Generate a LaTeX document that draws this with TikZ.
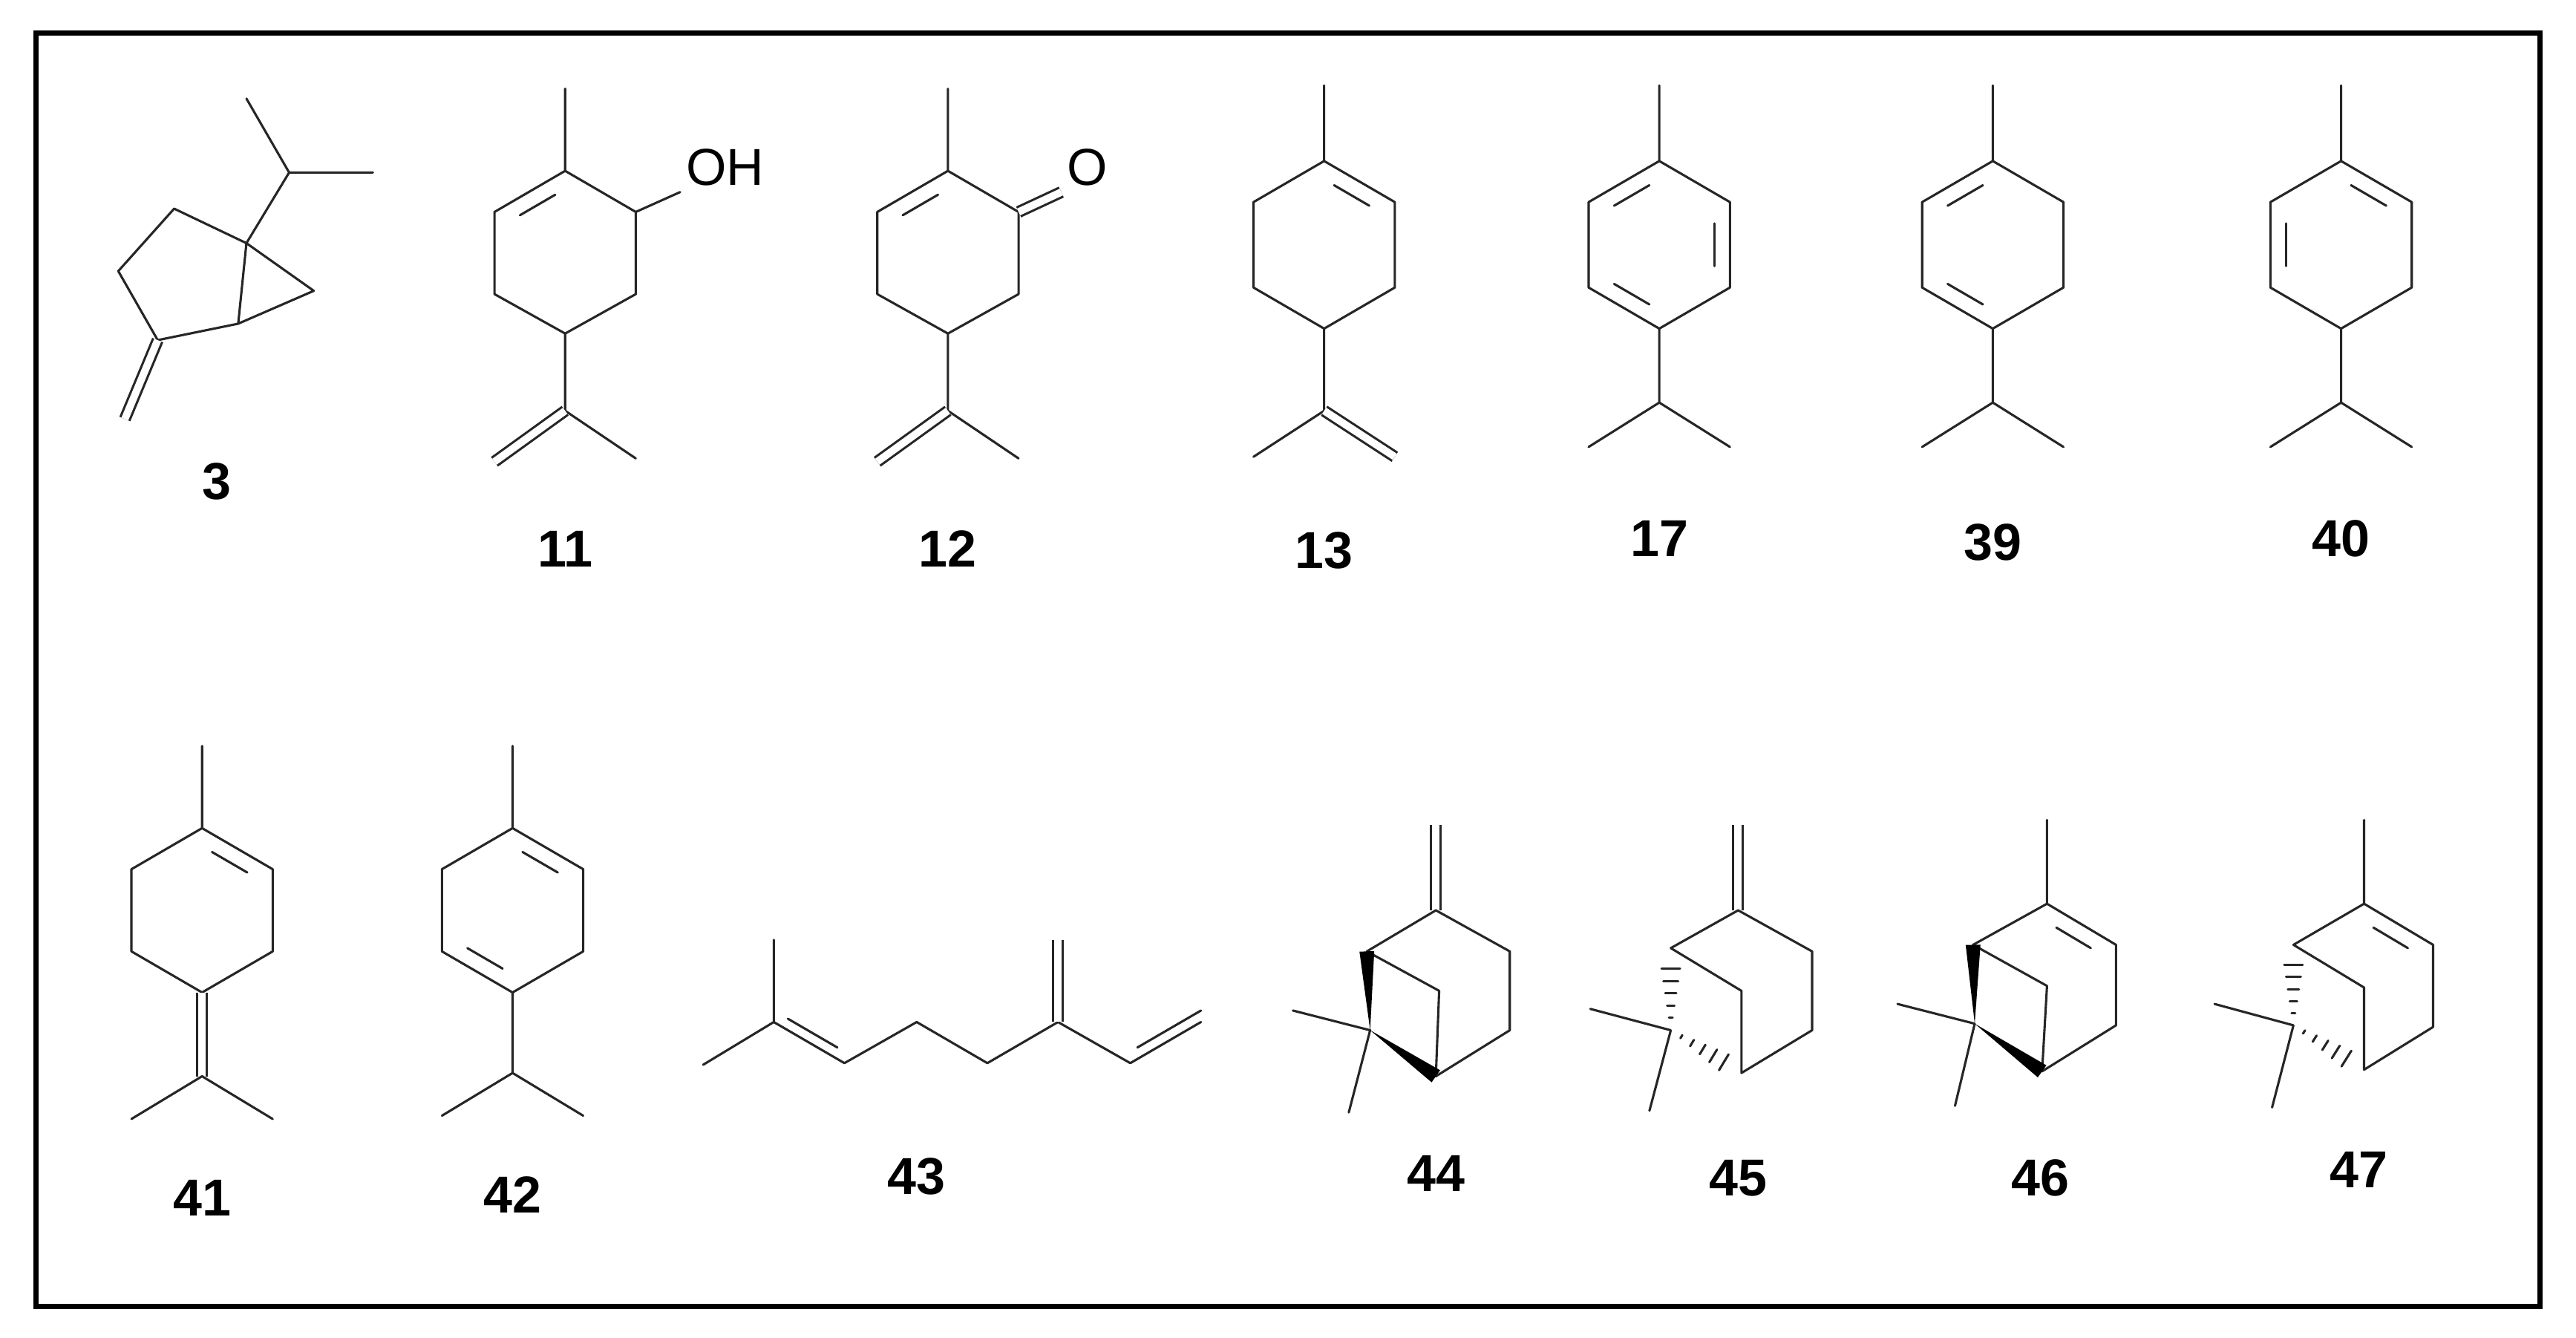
\documentclass[tikz,border=0pt]{standalone}
\usepackage{fontspec}
\setmainfont{Liberation Sans}
\usetikzlibrary{calc}
\tikzstyle{bond} = [line width=0.14mm, line cap=round, line join=round, black!85]
\tikzstyle{dbl} = [bond, double=white, double distance=0.45mm, line cap=butt]
\tikzstyle{lbl} = [font=\bfseries\fontsize{9}{10}\selectfont]
\tikzstyle{atom} = [font=\fontsize{9}{10}\selectfont, inner sep=0.3mm]
% inner line of a ring double bond: from, to, ring centre
\newcommand{\ringdbl}[3]{
	\draw [bond] ($($(#1)!.18!(#2)$)!.22!(#3)$) -- ($($(#2)!.18!(#1)$)!.22!(#3)$);}
% wedge and hash bonds: narrow end, wide end
\newcommand{\wedgeb}[2]{
	\fill [black] (#1) -- ($(#2)!0.45mm!90:(#1)$) -- ($(#2)!0.45mm!-90:(#1)$) -- cycle;}
\newcommand{\hashb}[2]{
	\foreach \t in {0.15,0.3,...,0.9}
		\draw [bond] ($($(#1)!\t!(#2)$)!\t*0.75mm!90:(#2)$) -- ($($(#1)!\t!(#2)$)!\t*0.75mm!-90:(#2)$);}

\begin{document}
\begin{tikzpicture}[x=0.1mm, y=-0.1mm]
	\useasboundingbox (0,0) rectangle (1568,814);
	\draw [line width=0.3mm] (22,20) rectangle (1546,795);

	% 3
	\coordinate (s3m1) at (150,60); \coordinate (s3ch) at (176,105); \coordinate (s3m2) at (227,105);
	\coordinate (s3c1) at (150,148); \coordinate (s3c2) at (106,127); \coordinate (s3c3) at (72,165);
	\coordinate (s3c4) at (96,207); \coordinate (s3c5) at (145,197); \coordinate (s3c6) at (191,177);
	\coordinate (s3ch2) at (76,255);
	\draw [bond] (s3m1) -- (s3ch) -- (s3m2) (s3ch) -- (s3c1) -- (s3c2) -- (s3c3) -- (s3c4) -- (s3c5) -- (s3c1) -- (s3c6) -- (s3c5);
	\draw [dbl] (s3c4) -- (s3ch2);
	\node (lab3) [lbl] at (132,293) {3};

	% 11 and 12
	\foreach \x/\n in {344/11, 577/12} {
		\begin{scope}[shift={(\x,0)}]
			\coordinate (t) at (0,104); \coordinate (ur) at (43,129); \coordinate (lr) at (43,179);
			\coordinate (b) at (0,203); \coordinate (ll) at (-43,179); \coordinate (ul) at (-43,129);
			\coordinate (mid) at (0,154);
			\draw [bond] (0,54) -- (t) (t) -- (ur) -- (lr) -- (b) -- (ll) -- (ul) -- cycle;
			\ringdbl{t}{ul}{mid}
			\draw [bond] (b) -- (0,250) -- (43,279);
			\draw [dbl] (0,250) -- (-43,281);
			\node (lab\n) [lbl] at (0,334) {\n};
		\end{scope}
	}
	\node (oh11) [atom, anchor=west] at (414,102) {OH};
	\draw [bond] (387,129) -- (oh11.south west);
	\node (o12) [atom] at (662,102) {O};
	\draw [dbl] (620,129) -- (o12.south west);

	% 13, 17, 39, 40
	\foreach \x in {806, 1010, 1213, 1425} {
		\begin{scope}[shift={(\x,0)}]
			\draw [bond] (0,52) -- (0,98) (0,98) -- (43,123) -- (43,175) -- (0,200) -- (-43,175) -- (-43,123) -- cycle;
		\end{scope}
	}
	\begin{scope}[shift={(806,0)}]
		\coordinate (t) at (0,98); \coordinate (ur) at (43,123); \coordinate (mid) at (0,149);
		\ringdbl{t}{ur}{mid}
		\draw [bond] (0,200) -- (0,250) -- (-43,278);
		\draw [dbl] (0,250) -- (43,278);
		\node (lab13) [lbl] at (0,335) {13};
	\end{scope}
	\begin{scope}[shift={(1010,0)}]
		\coordinate (t) at (0,98); \coordinate (ur) at (43,123); \coordinate (lr) at (43,175);
		\coordinate (b) at (0,200); \coordinate (ll) at (-43,175); \coordinate (ul) at (-43,123);
		\coordinate (mid) at (0,149);
		\ringdbl{t}{ul}{mid} \ringdbl{ur}{lr}{mid} \ringdbl{b}{ll}{mid}
		\draw [bond] (b) -- (0,245) -- (-43,272) (0,245) -- (43,272);
		\node (lab17) [lbl] at (0,328) {17};
	\end{scope}
	\begin{scope}[shift={(1213,0)}]
		\coordinate (t) at (0,98); \coordinate (b) at (0,200); \coordinate (ll) at (-43,175);
		\coordinate (ul) at (-43,123); \coordinate (mid) at (0,149);
		\ringdbl{t}{ul}{mid} \ringdbl{b}{ll}{mid}
		\draw [bond] (b) -- (0,245) -- (-43,272) (0,245) -- (43,272);
		\node (lab39) [lbl] at (0,330) {39};
	\end{scope}
	\begin{scope}[shift={(1425,0)}]
		\coordinate (t) at (0,98); \coordinate (ur) at (43,123); \coordinate (b) at (0,200);
		\coordinate (ll) at (-43,175); \coordinate (ul) at (-43,123); \coordinate (mid) at (0,149);
		\ringdbl{t}{ur}{mid} \ringdbl{ll}{ul}{mid}
		\draw [bond] (b) -- (0,245) -- (-43,272) (0,245) -- (43,272);
		\node (lab40) [lbl] at (0,328) {40};
	\end{scope}

	% 41, 42
	\foreach \x in {123, 312} {
		\begin{scope}[shift={(\x,0)}]
			\coordinate (t) at (0,504); \coordinate (ur) at (43,529); \coordinate (mid) at (0,554);
			\draw [bond] (0,454) -- (t) (t) -- (ur) -- (43,579) -- (0,604) -- (-43,579) -- (-43,529) -- cycle;
			\ringdbl{t}{ur}{mid}
		\end{scope}
	}
	\begin{scope}[shift={(123,0)}]
		\draw [dbl] (0,604) -- (0,655);
		\draw [bond] (-43,681) -- (0,655) -- (43,681);
		\node (lab41) [lbl] at (0,729) {41};
	\end{scope}
	\begin{scope}[shift={(312,0)}]
		\coordinate (b) at (0,604); \coordinate (ll) at (-43,579); \coordinate (mid) at (0,554);
		\ringdbl{b}{ll}{mid}
		\draw [bond] (b) -- (0,653) -- (-43,679) (0,653) -- (43,679);
		\node (lab42) [lbl] at (0,727) {42};
	\end{scope}

	% 43
	\coordinate (m1) at (428,648); \coordinate (m2) at (471,622); \coordinate (m3) at (514,647);
	\coordinate (m4) at (558,622); \coordinate (m5) at (601,647); \coordinate (m6) at (644,622);
	\coordinate (m7) at (688,647); \coordinate (m8) at (731,622);
	\draw [bond] (m1) -- (m2) -- (m3) -- (m4) -- (m5) -- (m6) -- (m7) -- (m8) (m2) -- (471,572);
	\draw [bond] ($(m2)!.2!(m3)+(0,-7)$) -- ($(m3)!.1!(m2)+(0,-7)$);
	\draw [bond] ($(m7)!.1!(m8)+(0,-7)$) -- ($(m8)+(0,-7)$);
	\draw [dbl] (m6) -- (644,572);
	\node (lab43) [lbl] at (558,716) {43};

	% 44
	\draw [dbl] (874,554) -- (874,502);
	\draw [bond] (832,579) -- (874,554) -- (919,579) -- (919,627) -- (874,655) -- (876,603) -- (832,579);
	\draw [bond] (787,615) -- (834,627) -- (821,677);
	\coordinate (p44c6) at (834,627);
	\coordinate (p44c1) at (832,579); \coordinate (p44c5) at (874,655);
	\wedgeb{p44c6}{p44c1} \wedgeb{p44c6}{p44c5}
	\node (lab44) [lbl] at (874,714) {44};

	% 45
	\draw [dbl] (1058,554) -- (1058,502);
	\draw [bond] (1017,577) -- (1058,554) -- (1103,579) -- (1103,627) -- (1060,653) -- (1060,603) -- (1017,577);
	\draw [bond] (968,614) -- (1017,627) -- (1004,676);
	\coordinate (p45c6) at (1017,627);
	\coordinate (p45c1) at (1017,577); \coordinate (p45c5) at (1060,653);
	\hashb{p45c6}{p45c1} \hashb{p45c6}{p45c5}
	\node (lab45) [lbl] at (1058,717) {45};

	% 46
	\coordinate (p46t) at (1246,550); \coordinate (p46ur) at (1288,575);
	\draw [bond] (1246,499) -- (p46t) -- (p46ur) -- (1288,624) -- (1243,652) -- (1246,600) -- (1201,575) -- (p46t);
	\coordinate (p46mid) at (1245,600);
	\ringdbl{p46t}{p46ur}{p46mid}
	\draw [bond] (1155,611) -- (1202,623) -- (1190,673);
	\coordinate (p46c6) at (1202,623);
	\coordinate (p46c1) at (1201,575); \coordinate (p46c5) at (1243,652);
	\wedgeb{p46c6}{p46c1} \wedgeb{p46c6}{p46c5}
	\node (lab46) [lbl] at (1242,717) {46};

	% 47
	\coordinate (p47t) at (1439,550); \coordinate (p47ur) at (1481,575);
	\draw [bond] (1439,499) -- (p47t) -- (p47ur) -- (1481,625) -- (1439,651) -- (1439,601) -- (1396,575) -- (p47t);
	\coordinate (p47mid) at (1438,600);
	\ringdbl{p47t}{p47ur}{p47mid}
	\draw [bond] (1348,611) -- (1396,624) -- (1383,674);
	\coordinate (p47c6) at (1396,624);
	\coordinate (p47c1) at (1396,575); \coordinate (p47c5) at (1439,651);
	\hashb{p47c6}{p47c1} \hashb{p47c6}{p47c5}
	\node (lab47) [lbl] at (1436,712) {47};
\end{tikzpicture}
\end{document}
